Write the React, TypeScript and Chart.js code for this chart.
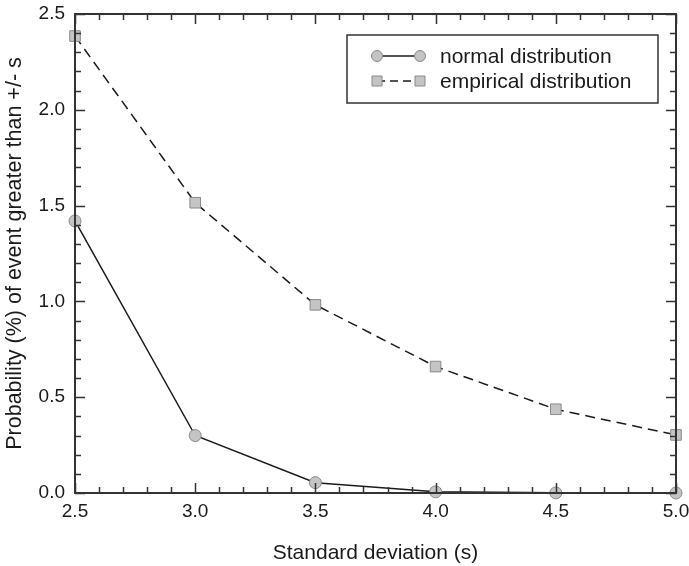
import React, { useEffect, useRef } from "react";
import { Chart, registerables } from "chart.js";

Chart.register(...registerables);

const sigmas = [2.5, 3.0, 3.5, 4.0, 4.5, 5.0];
const normalValues = [1.42, 0.3, 0.054, 0.006, 0.0007, 0.0001];
const empiricalValues = [2.385, 1.515, 0.982, 0.66, 0.437, 0.303];
const seriesLabels = ["normal distribution", "empirical distribution"];
const xTitle = "Standard deviation (s)";
const yTitle = "Probability (%) of event greater than +/- s";

const FONT = "'Liberation Sans', Arial, sans-serif";
const AXIS = "#333333";

const frameTicks = {
  id: "frameTicks",
  afterDraw(chart: any) {
    const { ctx, chartArea, scales } = chart;
    const { left, right, top, bottom } = chartArea;
    ctx.save();
    ctx.strokeStyle = AXIS;
    ctx.lineWidth = 2;
    ctx.strokeRect(left, top, right - left, bottom - top);
    ctx.lineWidth = 1.5;
    const x = scales.x;
    const y = scales.y;
    for (let i = 0; i <= 25; i++) {
      const v = 2.5 + i * 0.1;
      const px = Math.round(x.getPixelForValue(v)) + 0.5;
      const major = i % 5 === 0;
      const len = major ? 10 : 6;
      ctx.beginPath();
      ctx.moveTo(px, bottom);
      ctx.lineTo(px, bottom - len);
      ctx.moveTo(px, top);
      ctx.lineTo(px, top + len);
      ctx.stroke();
    }
    for (let i = 0; i <= 25; i++) {
      const v = i * 0.1;
      const py = Math.round(y.getPixelForValue(v)) + 0.5;
      const major = i % 5 === 0;
      const len = major ? 10 : 6;
      ctx.beginPath();
      ctx.moveTo(left, py);
      ctx.lineTo(left + len, py);
      ctx.moveTo(right, py);
      ctx.lineTo(right - len, py);
      ctx.stroke();
    }
    ctx.restore();
  },
};

const boxLegend = {
  id: "boxLegend",
  afterDraw(chart: any) {
    const { ctx } = chart;
    const bx = 347, by = 35, bw = 311, bh = 68;
    ctx.save();
    ctx.fillStyle = "#ffffff";
    ctx.fillRect(bx, by, bw, bh);
    ctx.strokeStyle = AXIS;
    ctx.lineWidth = 1.5;
    ctx.strokeRect(bx, by, bw, bh);
    const rows = [56, 81];
    chart.data.datasets.forEach((ds: any, i: number) => {
      const yy = rows[i];
      const x1 = 377, x2 = 420;
      ctx.strokeStyle = "#1a1a1a";
      ctx.lineWidth = 1.5;
      ctx.setLineDash(ds.borderDash ? [8, 5] : []);
      ctx.beginPath();
      ctx.moveTo(x1, yy);
      ctx.lineTo(x2, yy);
      ctx.stroke();
      ctx.setLineDash([]);
      ctx.fillStyle = ds.pointBackgroundColor;
      ctx.strokeStyle = ds.pointBorderColor;
      ctx.lineWidth = 1;
      [x1, x2].forEach((cx) => {
        ctx.beginPath();
        if (ds.pointStyle === "rect") {
          ctx.rect(cx - 5, yy - 5, 10, 10);
        } else {
          ctx.arc(cx, yy, 5.5, 0, Math.PI * 2);
        }
        ctx.fill();
        ctx.stroke();
      });
      ctx.fillStyle = "#1a1a1a";
      ctx.font = `21px ${FONT}`;
      ctx.textBaseline = "middle";
      ctx.textAlign = "left";
      ctx.fillText(ds.label, 440, yy + 1);
    });
    ctx.restore();
  },
};

export default function App() {
  const ref = useRef<HTMLCanvasElement>(null);
  useEffect(() => {
    const chart = new Chart(ref.current as HTMLCanvasElement, {
      type: "line",
      data: {
        datasets: [
          {
            label: seriesLabels[0],
            data: sigmas.map((s, i) => ({ x: s, y: normalValues[i] })),
            borderColor: "#1a1a1a",
            borderWidth: 1.5,
            pointStyle: "circle",
            pointRadius: 6,
            pointBackgroundColor: "#c4c4c4",
            pointBorderColor: "#8a8a8a",
            pointBorderWidth: 1,
            clip: false,
          } as any,
          {
            label: seriesLabels[1],
            data: sigmas.map((s, i) => ({ x: s, y: empiricalValues[i] })),
            borderColor: "#1a1a1a",
            borderWidth: 1.5,
            borderDash: [10, 6],
            pointStyle: "rect",
            pointRadius: 7.5,
            pointBackgroundColor: "#c4c4c4",
            pointBorderColor: "#8a8a8a",
            pointBorderWidth: 1,
            clip: false,
          } as any,
        ],
      },
      options: {
        animation: false,
        responsive: false,
        maintainAspectRatio: false,
        layout: { padding: { left: 0, top: 14, right: 13, bottom: 0 } },
        plugins: { legend: { display: false }, tooltip: { enabled: false } },
        scales: {
          x: {
            type: "linear",
            min: 2.5,
            max: 5.0,
            afterFit: (s: any) => {
              s.height = 73;
              s.paddingLeft = 0;
              s.paddingRight = 0;
            },
            ticks: {
              stepSize: 0.5,
              padding: 7,
              color: "#1a1a1a",
              font: { family: FONT, size: 19 },
              callback: (v: any) => Number(v).toFixed(1),
            },
            grid: { drawOnChartArea: false, drawTicks: false },
            border: { display: false },
            title: {
              display: true,
              text: xTitle,
              color: "#1a1a1a",
              font: { family: FONT, size: 21 },
              padding: { top: 0, bottom: 0 },
            },
          },
          y: {
            type: "linear",
            min: 0,
            max: 2.5,
            afterFit: (s: any) => {
              s.width = 75;
              s.paddingTop = 0;
              s.paddingBottom = 0;
            },
            ticks: {
              stepSize: 0.5,
              padding: 10,
              color: "#1a1a1a",
              font: { family: FONT, size: 19 },
              callback: (v: any) => Number(v).toFixed(1),
            },
            grid: { drawOnChartArea: false, drawTicks: false },
            border: { display: false },
            title: {
              display: true,
              text: yTitle,
              color: "#1a1a1a",
              font: { family: FONT, size: 21.5 },
              padding: { top: 2, bottom: 0 },
            },
          },
        },
      },
      plugins: [frameTicks, boxLegend],
    });
    return () => chart.destroy();
  }, []);
  return (
    <div style={{ position: "fixed", left: 0, top: 0, width: 689, height: 566, background: "#fff" }}>
      <canvas ref={ref} width={689} height={566} style={{ width: 689, height: 566 }} />
    </div>
  );
}
